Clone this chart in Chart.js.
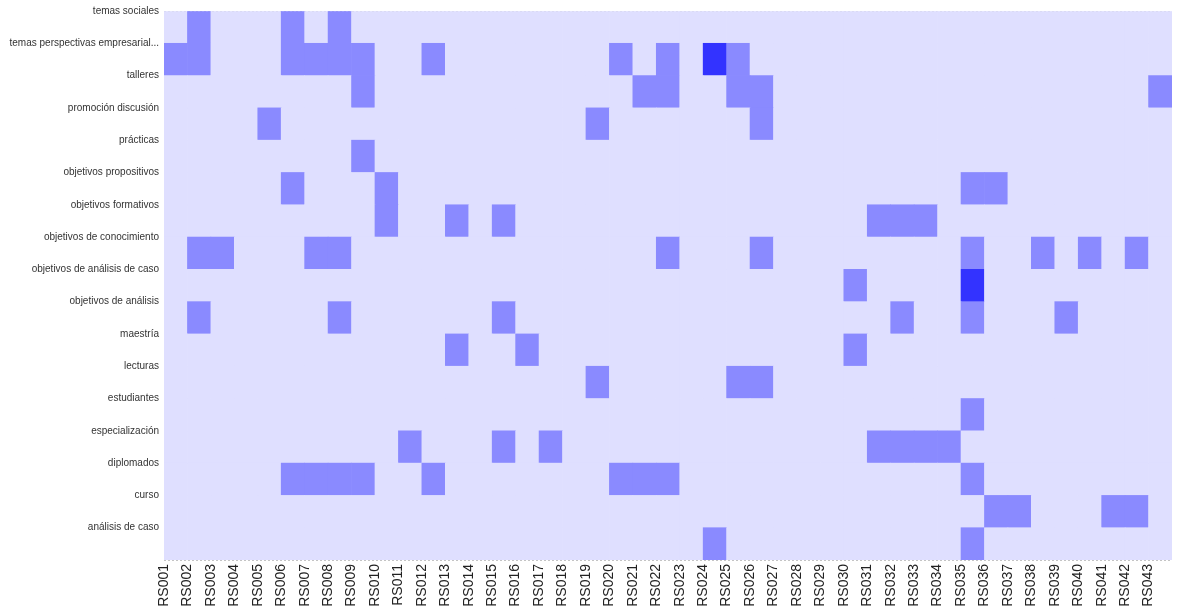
<!DOCTYPE html>
<html>
<head>
<meta charset="utf-8">
<script src="https://cdn.jsdelivr.net/npm/chart.js@4"></script>
<style>
  body { margin: 0; background: #fff; }
  #wrap { width: 1178px; height: 615px; }
</style>
</head>
<body>
<div id="wrap"><canvas id="heatChart"></canvas></div>
<script>
const columns = ['RS001','RS002','RS003','RS004','RS005','RS006','RS007','RS008','RS009','RS010',
    'RS011','RS012','RS013','RS014','RS015','RS016','RS017','RS018','RS019','RS020',
    'RS021','RS022','RS023','RS024','RS025','RS026','RS027','RS028','RS029','RS030',
    'RS031','RS032','RS033','RS034','RS035','RS036','RS037','RS038','RS039','RS040',
    'RS041','RS042','RS043'];

const rowNames = ['temas sociales', 'temas perspectivas empresarial...', 'talleres',
    'promoción discusión', 'prácticas', 'objetivos propositivos', 'objetivos formativos',
    'objetivos de conocimiento', 'objetivos de análisis de caso', 'objetivos de análisis',
    'maestría', 'lecturas', 'estudiantes', 'especialización', 'diplomados', 'curso',
    'análisis de caso'];

// one array per row, 43 columns each
const temasSociales     = [0,1,0,0,0,1,0,1,0,0, 0,0,0,0,0,0,0,0,0,0, 0,0,0,0,0,0,0,0,0,0, 0,0,0,0,0,0,0,0,0,0, 0,0,0];
const temasPerspectivas = [1,1,0,0,0,1,1,1,1,0, 0,1,0,0,0,0,0,0,0,1, 0,1,0,2,1,0,0,0,0,0, 0,0,0,0,0,0,0,0,0,0, 0,0,0];
const talleres          = [0,0,0,0,0,0,0,0,1,0, 0,0,0,0,0,0,0,0,0,0, 1,1,0,0,1,1,0,0,0,0, 0,0,0,0,0,0,0,0,0,0, 0,0,1];
const promocion         = [0,0,0,0,1,0,0,0,0,0, 0,0,0,0,0,0,0,0,1,0, 0,0,0,0,0,1,0,0,0,0, 0,0,0,0,0,0,0,0,0,0, 0,0,0];
const practicas         = [0,0,0,0,0,0,0,0,1,0, 0,0,0,0,0,0,0,0,0,0, 0,0,0,0,0,0,0,0,0,0, 0,0,0,0,0,0,0,0,0,0, 0,0,0];
const objPropositivos   = [0,0,0,0,0,1,0,0,0,1, 0,0,0,0,0,0,0,0,0,0, 0,0,0,0,0,0,0,0,0,0, 0,0,0,0,1,1,0,0,0,0, 0,0,0];
const objFormativos     = [0,0,0,0,0,0,0,0,0,1, 0,0,1,0,1,0,0,0,0,0, 0,0,0,0,0,0,0,0,0,0, 1,1,1,0,0,0,0,0,0,0, 0,0,0];
const objConocimiento   = [0,1,1,0,0,0,1,1,0,0, 0,0,0,0,0,0,0,0,0,0, 0,1,0,0,0,1,0,0,0,0, 0,0,0,0,1,0,0,1,0,1, 0,1,0];
const objAnalisisCaso   = [0,0,0,0,0,0,0,0,0,0, 0,0,0,0,0,0,0,0,0,0, 0,0,0,0,0,0,0,0,0,1, 0,0,0,0,2,0,0,0,0,0, 0,0,0];
const objAnalisis       = [0,1,0,0,0,0,0,1,0,0, 0,0,0,0,1,0,0,0,0,0, 0,0,0,0,0,0,0,0,0,0, 0,1,0,0,1,0,0,0,1,0, 0,0,0];
const maestria          = [0,0,0,0,0,0,0,0,0,0, 0,0,1,0,0,1,0,0,0,0, 0,0,0,0,0,0,0,0,0,1, 0,0,0,0,0,0,0,0,0,0, 0,0,0];
const lecturas          = [0,0,0,0,0,0,0,0,0,0, 0,0,0,0,0,0,0,0,1,0, 0,0,0,0,1,1,0,0,0,0, 0,0,0,0,0,0,0,0,0,0, 0,0,0];
const estudiantes       = [0,0,0,0,0,0,0,0,0,0, 0,0,0,0,0,0,0,0,0,0, 0,0,0,0,0,0,0,0,0,0, 0,0,0,0,1,0,0,0,0,0, 0,0,0];
const especializacion   = [0,0,0,0,0,0,0,0,0,0, 1,0,0,0,1,0,1,0,0,0, 0,0,0,0,0,0,0,0,0,0, 1,1,1,1,0,0,0,0,0,0, 0,0,0];
const diplomados        = [0,0,0,0,0,1,1,1,1,0, 0,1,0,0,0,0,0,0,0,1, 1,1,0,0,0,0,0,0,0,0, 0,0,0,0,1,0,0,0,0,0, 0,0,0];
const curso             = [0,0,0,0,0,0,0,0,0,0, 0,0,0,0,0,0,0,0,0,0, 0,0,0,0,0,0,0,0,0,0, 0,0,0,0,0,1,1,0,0,0, 1,1,0];
const analisisCaso      = [0,0,0,0,0,0,0,0,0,0, 0,0,0,0,0,0,0,0,0,0, 0,0,0,1,0,0,0,0,0,0, 0,0,0,0,1,0,0,0,0,0, 0,0,0];

const rows = [temasSociales, temasPerspectivas, talleres, promocion, practicas, objPropositivos,
    objFormativos, objConocimiento, objAnalisisCaso, objAnalisis, maestria, lecturas,
    estudiantes, especializacion, diplomados, curso, analisisCaso];

const palette = ['#dfdfff', '#8a8aff', '#3333ff'];

// every cell is a floating bar spanning its row
const cells = [];
rows.forEach((vals, r) => {
    vals.forEach((v, c) => cells.push({ x: c + 0.5, y: [r, r + 1], v: v }));
});

const ctx = document.getElementById('heatChart').getContext('2d');
const heatChart = new Chart(ctx, {
    type: 'bar',
    data: {
        datasets: [{
            data: cells,
            backgroundColor: c => palette[c.raw ? c.raw.v : 0],
            borderWidth: 0,
            barPercentage: 1,
            categoryPercentage: 1
        }]
    },
    options: {
        responsive: true,
        maintainAspectRatio: false,
        animation: false,
        layout: { padding: { top: 10, right: 6, left: 0, bottom: 0 } },
        plugins: { legend: { display: false }, tooltip: { enabled: false } },
        scales: {
            x: {
                type: 'linear',
                offset: false,
                min: 0,
                max: columns.length,
                grid: { display: false, drawTicks: false, offset: false },
                border: { display: false },
                ticks: {
                    stepSize: 1,
                    autoSkip: false,
                    minRotation: 90,
                    maxRotation: 90,
                    padding: 4,
                    color: '#222',
                    font: { family: 'Liberation Sans, Arial, sans-serif', size: 14 },
                    callback: v => columns[v] || ''
                },
                afterFit: s => {
                    s.height = 55;
                    s.paddingLeft = 0;
                    s.paddingRight = 0;
                }
            },
            y: {
                type: 'linear',
                reverse: true,
                min: 0,
                max: rowNames.length,
                z: 1,
                grid: {
                    drawTicks: false,
                    color: c => (c.tick && (c.tick.value === 0 || c.tick.value === rowNames.length)) ? '#c4c4c4' : 'rgba(0,0,0,0)'
                },
                border: { display: false, dash: [2, 2] },
                ticks: {
                    stepSize: 1,
                    autoSkip: false,
                    padding: 5,
                    color: '#333',
                    font: { family: 'Liberation Sans, Arial, sans-serif', size: 10 },
                    callback: v => rowNames[v] || ''
                },
                afterFit: s => { s.width = 164; }
            }
        }
    }
});
</script>
</body>
</html>
